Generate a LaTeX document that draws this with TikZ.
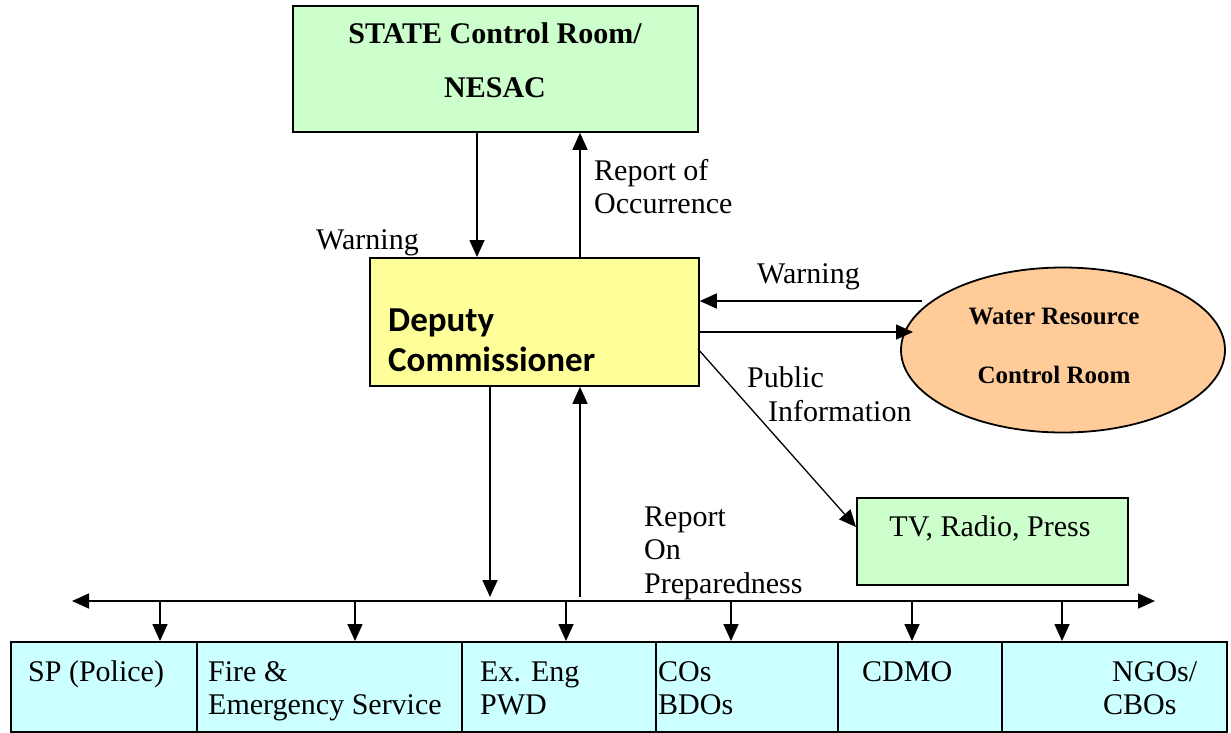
\documentclass[tikz,border=0pt]{standalone}
\usepackage{fontspec}
\setmainfont{Liberation Serif}
\newfontfamily\calib{Carlito}
\usetikzlibrary{arrows.meta,shapes.geometric}
\definecolor{lgreen}{HTML}{CCFFCC}
\definecolor{lyellow}{HTML}{FFFF99}
\definecolor{lorange}{HTML}{FFCC99}
\definecolor{lcyan}{HTML}{CCFFFF}
\tikzset{
  box/.style={draw=black, line width=1.8pt, inner sep=0pt, anchor=north west},
  tip/.style={-{Triangle[length=17pt,width=15pt]}},
  arr/.style={line width=1.6pt, tip},
  darr/.style={line width=1.6pt, {Triangle[length=17pt,width=15pt]}-{Triangle[length=17pt,width=15pt]}},
  lbl/.style={anchor=base west, inner sep=0pt, font=\fontsize{30}{33}\selectfont},
  blbl/.style={anchor=base, inner sep=0pt, font=\fontsize{30}{33}\selectfont\bfseries},
  wlbl/.style={anchor=base, inner sep=0pt, font=\fontsize{25}{28}\selectfont\bfseries},
  dlbl/.style={anchor=base west, inner sep=0pt, font=\fontsize{35}{38}\calib\bfseries},
}
\begin{document}
\begin{tikzpicture}[x=1pt,y=-1pt]
\useasboundingbox (0,0) rectangle (1231,732);
% boxes
\node[box, fill=lgreen, minimum width=405pt, minimum height=126pt] (state) at (292,5) {};
\node[box, fill=lyellow, minimum width=329pt, minimum height=128pt] (dc) at (369,257) {};
\node[draw=black, line width=1.8pt, fill=lorange, ellipse, minimum width=324pt, minimum height=165pt, inner sep=0pt] (wr) at (1063,350) {};
\node[box, fill=lgreen, minimum width=271pt, minimum height=87pt] (tv) at (856,497) {};
% bottom cells
\node[box, fill=lcyan, minimum width=186pt, minimum height=90pt] (c1) at (10,641) {};
\node[box, fill=lcyan, minimum width=265pt, minimum height=90pt] (c2) at (196,641) {};
\node[box, fill=lcyan, minimum width=194pt, minimum height=90pt] (c3) at (461,641) {};
\node[box, fill=lcyan, minimum width=182pt, minimum height=90pt] (c4) at (655,641) {};
\node[box, fill=lcyan, minimum width=164pt, minimum height=90pt] (c5) at (837,641) {};
\node[box, fill=lcyan, minimum width=225pt, minimum height=90pt] (c6) at (1001,641) {};
% box texts
\node[blbl] (st1) at (495,43) {STATE Control Room/};
\node[blbl] (st2) at (495,97) {NESAC};
\node[dlbl] (dc1) at (388,331) {Deputy};
\node[dlbl] (dc2) at (388,371) {Commissioner};
\node[wlbl] (wr1) at (1054,324) {Water Resource};
\node[wlbl] (wr2) at (1054,383) {Control Room};
\node[lbl, anchor=base] (tvt) at (990,536) {TV, Radio, Press};
\node[lbl] (t1) at (28,681) {SP (Police)};
\node[lbl] (t2a) at (208,681) {Fire \&};
\node[lbl] (t2b) at (208,714) {Emergency Service};
\node[lbl] (t3a) at (480,681) {Ex. Eng};
\node[lbl] (t3b) at (480,714) {PWD};
\node[lbl] (t4a) at (658,681) {COs};
\node[lbl] (t4b) at (658,714) {BDOs};
\node[lbl] (t5) at (862,681) {CDMO};
\node[lbl] (t6a) at (1112,681) {NGOs/};
\node[lbl] (t6b) at (1103,714) {CBOs};
% labels
\node[lbl] (w1) at (316,249) {Warning};
\node[lbl] (r1) at (594,180) {Report of};
\node[lbl] (r2) at (594,213) {Occurrence};
\node[lbl] (w2) at (757,283) {Warning};
\node[lbl] (p1) at (747,387) {Public};
\node[lbl] (p2) at (768,421) {Information};
\node[lbl] (q1) at (644,526) {Report};
\node[lbl] (q2) at (644,559) {On};
\node[lbl] (q3) at (644,593) {Preparedness};
% connectors
\draw[arr] (state.south -| 477,0) -- (dc.north -| 477,0);
\draw[arr] (dc.north -| 580,0) -- (state.south -| 580,0);
\coordinate (wrw) at (922,301);
\draw[arr] (wrw) -- (dc.east |- wrw);
\coordinate (wre) at (913,332);
\draw[arr] (dc.east |- wre) -- (wre);
\coordinate (diag) at (698,349);
\draw[line width=1.3pt, tip] (diag) -- (tv.west |- 0,527);
\coordinate (busL) at (72,601);
\coordinate (busR) at (1155,601);
\draw[darr] (busL) -- (busR);
\draw[arr] (dc.south -| 490,0) -- (490,597);
\coordinate (upb) at (580,597);
\draw[arr] (upb) -- (dc.south -| upb);
\foreach \x/\c in {160/c1,355/c2,566/c3,731/c4,912/c5,1062/c6}{
  \draw[arr] (\x,601) -- (\c.north -| \x,0);
}
\end{tikzpicture}
\end{document}
